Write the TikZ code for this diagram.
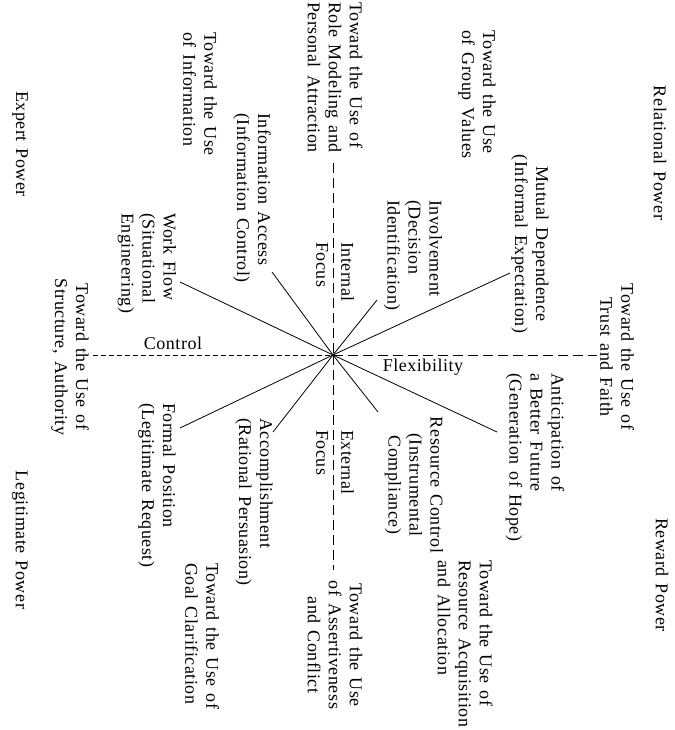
\documentclass[tikz,border=0pt]{standalone}
\usepackage{fontspec}
\setmainfont[LetterSpace=3,WordSpace=1.4]{Liberation Serif}
\begin{document}
\begin{tikzpicture}[x=1pt,y=-1pt,
  txt/.style={inner sep=0pt, font=\fontsize{18}{21}\selectfont},
  lbl/.style={txt, rotate=-90},
  lblL/.style={lbl, align=left, anchor=west},
  lblC/.style={lbl, align=center, anchor=center},
  spoke/.style={line width=0.8pt},
  axisfine/.style={line width=0.9pt, dash pattern=on 5pt off 3pt},
  axiscoarse/.style={line width=0.9pt, dash pattern=on 10pt off 5pt}]
\useasboundingbox[fill=white] (0,0) rectangle (674,730);

% corner power bases
\node[lbl] (relational) at (660,153) {Relational Power};
\node[lbl] (expert) at (20,144) {Expert Power};
\node[lbl] (legitimate) at (20,540) {Legitimate Power};
\node[lbl] (reward) at (662,575) {Reward Power};

% outer orientations
\node[lblL] (groupval) at (477,30) {Toward the Use\\of Group Values};
\node[lblL] (rolemod) at (335,2) {Toward the Use of\\Role Modeling and\\Personal Attraction};
\node[lblL] (infouse) at (200,32) {Toward the Use\\of Information};
\node[lblC] (trust) at (617,357) {Toward the Use of\\Trust and Faith};
\node[lblC] (structure) at (70,357) {Toward the Use of\\Structure, Authority};
\node[lblL] (goal) at (202,563) {Toward the Use of\\Goal Clarification};
\node[lblL] (resacq) at (465,560) {Toward the Use of\\Resource Acquisition\\and Allocation};
\node[lblC] (assert) at (335,645) {Toward the Use\\of Assertiveness\\and Conflict};

% influence strategies at the spoke ends
\node[lblC] (mutual) at (530,244) {Mutual Dependence\\(Informal Expectation)};
\node[lblL] (involve) at (413,200) {Involvement\\(Decision\\Identification)};
\node[lblL] (infoacc) at (252,113) {Information Access\\(Information Control)};
\node[lblL] (workflow) at (147,213) {Work Flow\\(Situational\\Engineering)};
\node[lblL] (formal) at (157,403) {Formal Position\\(Legitimate Request)};
\node[lblL] (accomp) at (254,418) {Accomplishment\\(Rational Persuasion)};
\node[lblC] (rescontrol) at (414,485) {Resource Control\\(Instrumental\\Compliance)};
\node[lblL] (anticip) at (535,373) {Anticipation of\\a Better Future\\(Generation of Hope)};

% axis labels
\node[lblL] (internal) at (335,242) {Internal\\[4pt]Focus};
\node[lblL] (external) at (335,430) {External\\[4pt]Focus};
\node[txt] (control) at (173,343) {Control};
\node[txt] (flexibility) at (423,367) {Flexibility};

% hub and spoke ends
\coordinate (hub) at (333,355);
\coordinate (axTop) at (333,163);
\coordinate (axBottom) at (333,570);
\coordinate (axLeft) at (93,355);
\coordinate (axRight) at (597,355);
\coordinate (sMutual) at (510,273);
\coordinate (sInvolve) at (377,300);
\coordinate (sInfoAcc) at (272,272);
\coordinate (sWork) at (180,282);
\coordinate (sFormal) at (180,428);
\coordinate (sAccomp) at (273,432);
\coordinate (sResCtl) at (378,412);
\coordinate (sAntic) at (497,432);

% dashed axes
\draw[axiscoarse] (axTop) -- (hub);
\draw[axiscoarse] (hub) -- (axBottom);
\draw[axisfine] (axLeft) -- (hub);
\draw[axiscoarse] (hub) -- (axRight);

% spokes
\foreach \e in {sMutual,sInvolve,sInfoAcc,sWork,sFormal,sAccomp,sResCtl,sAntic}
  \draw[spoke] (hub) -- (\e);
\end{tikzpicture}
\end{document}
